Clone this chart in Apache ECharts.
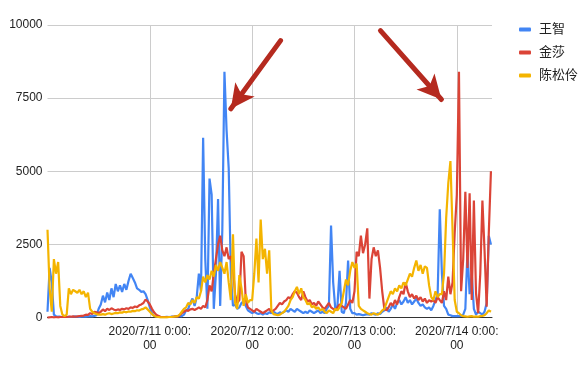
<!DOCTYPE html>
<html>
<head>
<meta charset="utf-8">
<script src="https://cdn.jsdelivr.net/npm/echarts@6/dist/echarts.min.js"></script>
<style>
html,body{margin:0;padding:0;background:#fff;}
#c{width:578px;height:370px;}
</style>
</head>
<body>
<div id="c"></div>
<script>
// half-hour samples starting 2020/7/10 0:00
var stepHours = 0.5;
var seriesNames = ['王智', '金莎', '陈松伶'];
var xTickLabels = ['2020/7/10 0:00:\n00', '2020/7/11 0:00:\n00', '2020/7/12 0:00:\n00', '2020/7/13 0:00:\n00', '2020/7/14 0:00:\n00'];
var yTicks = [0, 2500, 5000, 7500, 10000];

var wangZhi = [
200,1700,1200,100,40,30,30,20,30,20,
30,20,30,40,30,20,30,40,30,40,
50,40,60,80,300,450,750,520,860,600,
1000,700,1150,900,1100,880,1150,950,1250,1500,
1350,1200,1000,950,880,900,800,600,350,150,
60,40,30,20,20,20,30,20,30,30,
40,40,50,50,100,250,300,500,650,400,
700,1500,900,6150,2000,300,4750,4200,300,1500,
4050,400,3000,8400,6400,5100,1500,400,450,300,
350,500,550,400,250,200,150,200,150,120,
150,100,150,120,180,150,200,150,120,180,
150,200,250,200,300,250,200,300,250,200,
150,200,150,250,200,150,200,250,150,200,
150,300,400,3150,1200,300,400,1600,200,150,
500,1950,300,150,150,100,120,100,80,100,
120,100,150,120,100,150,120,200,250,350,
200,300,450,300,500,600,450,550,700,500,
600,450,550,650,500,400,450,350,300,350,
250,400,600,800,3700,1500,400,300,100,80,
50,50,50,50,60,100,300,2300,800,1500,
300,100,200,150,100,200,500,2800,2500
];

var jinSha = [
0,10,20,10,20,10,20,20,30,20,
30,30,40,30,40,50,60,70,100,90,
150,120,200,180,150,200,280,220,300,260,
320,280,250,280,260,300,280,320,300,350,
330,380,360,420,450,500,620,550,450,300,
180,100,60,30,20,20,20,20,20,30,
40,40,80,150,200,250,230,280,300,260,
300,350,300,400,350,600,1100,900,1500,2000,
2500,2800,2300,2100,2400,2000,2100,1700,800,500,
600,2250,2100,600,350,300,250,200,300,250,
200,150,200,250,300,200,250,300,400,500,
450,550,600,700,650,800,900,850,700,600,
900,700,550,600,450,500,400,550,450,350,
300,400,500,350,300,250,350,450,400,350,
300,450,600,500,900,2250,2100,2800,2200,2500,
3050,650,2000,2400,2100,2300,1700,900,300,250,
350,500,400,600,450,700,900,800,1200,900,
700,800,650,750,600,700,550,650,500,600,
550,600,500,700,600,500,900,600,1400,800,
1200,2900,4200,8400,900,2000,4300,1700,4250,600,
4000,840,150,1500,4000,2300,370,2900,5000
];

var chenSongLing = [
3000,1000,200,2000,1500,1900,400,100,50,100,
1000,800,950,900,850,950,800,900,700,850,
300,200,150,120,100,100,120,100,130,150,
120,140,160,150,180,170,200,180,210,200,
230,220,250,240,280,300,350,280,200,120,
60,30,20,10,10,10,10,20,20,30,
40,50,100,200,300,350,500,450,600,500,
700,650,900,1400,1200,1450,1300,1600,1400,1800,
1600,1900,1700,1500,1900,1200,600,2850,500,300,
1450,1000,400,800,500,600,600,1500,2700,1200,
3350,2000,2350,1500,2300,250,120,100,80,100,
150,200,300,400,600,700,900,1050,800,1000,
700,600,450,500,350,400,300,350,250,300,
200,150,250,200,150,300,250,350,500,900,
1300,1100,1600,1900,1700,1850,400,300,250,200,
150,120,100,150,120,100,150,250,300,500,
700,900,800,1000,900,1100,1000,1200,1100,1300,
1500,1400,1700,1950,1600,1800,1500,1750,1700,1100,
700,600,900,700,800,800,1500,3400,4600,5350,
3000,600,200,150,80,50,40,30,40,50,
30,40,30,50,60,80,150,250,200
];

// annotation arrows: [tailHour, tailValue, headHour, headValue]
var arrows = [
  [54.66, 9466, 43.0, 7137],
  [78.09, 9807, 92.39, 7454]
];

var colors = ['#4285f4', '#db4437', '#f4b400'];
var font = "'Liberation Sans', Arial, 'Noto Sans CJK SC', sans-serif";

function toPairs(arr){
  return arr.map(function(v, i){ return [i * stepHours, v]; });
}

var allData = [wangZhi, jinSha, chenSongLing];
var series = allData.map(function(arr, k){
  var s = {
    name: seriesNames[k],
    type: 'line',
    data: toPairs(arr),
    showSymbol: false,
    symbol: 'none',
    sampling: null,
    lineStyle: { width: 2.2, color: colors[k] },
    itemStyle: { color: colors[k] },
    emphasis: { disabled: true }
  };
  if (k === 2) {
    s.markLine = {
      silent: true,
      animation: false,
      label: { show: false },
      lineStyle: { color: '#b52a1f', width: 5, type: 'solid', cap: 'round' },
      symbolSize: [18, 24],
      emphasis: { disabled: true },
      data: arrows.map(function(a){
        return [
          { coord: [a[0], a[1]], symbol: 'none' },
          { coord: [a[2], a[3]], symbol: 'arrow' }
        ];
      })
    };
  }
  return s;
});

var chart = echarts.init(document.getElementById('c'), null, { renderer: 'canvas' });
chart.setOption({
  animation: false,
  color: colors,
  textStyle: { fontFamily: font },
  grid: { left: 47.5, right: 86, top: 25, bottom: 52.4, containLabel: false },
  legend: {
    orient: 'vertical',
    left: 514,
    top: 18,
    itemWidth: 12,
    itemHeight: 4,
    itemGap: 10,
    icon: 'roundRect',
    data: seriesNames,
    textStyle: { fontSize: 13, color: '#222', fontFamily: font, padding: [0, 0, 0, 3] }
  },
  xAxis: {
    type: 'value',
    min: 0,
    max: 104.25,
    interval: 24,
    axisLine: { show: true, lineStyle: { color: '#333', width: 1 } },
    axisTick: { show: false },
    splitLine: { show: true, showMinLine: false, showMaxLine: false, lineStyle: { color: '#cccccc', width: 1 } },
    axisLabel: {
      color: '#222',
      fontSize: 12,
      lineHeight: 14,
      margin: 7,
      fontFamily: font,
      showMinLabel: false,
      showMaxLabel: false,
      formatter: function(v){
        if (v % 24 !== 0) return '';
        var i = v / 24;
        return i > 0 && i < xTickLabels.length ? xTickLabels[i] : '';
      }
    }
  },
  yAxis: {
    type: 'value',
    min: yTicks[0],
    max: yTicks[yTicks.length - 1],
    interval: 2500,
    axisLine: { show: false },
    axisTick: { show: false },
    splitLine: { show: true, lineStyle: { color: '#cccccc', width: 1 } },
    axisLabel: {
      color: '#222', fontSize: 12, margin: 5, fontFamily: font,
      formatter: function(v){ return String(v); }
    }
  },
  series: series
});
</script>
</body>
</html>
